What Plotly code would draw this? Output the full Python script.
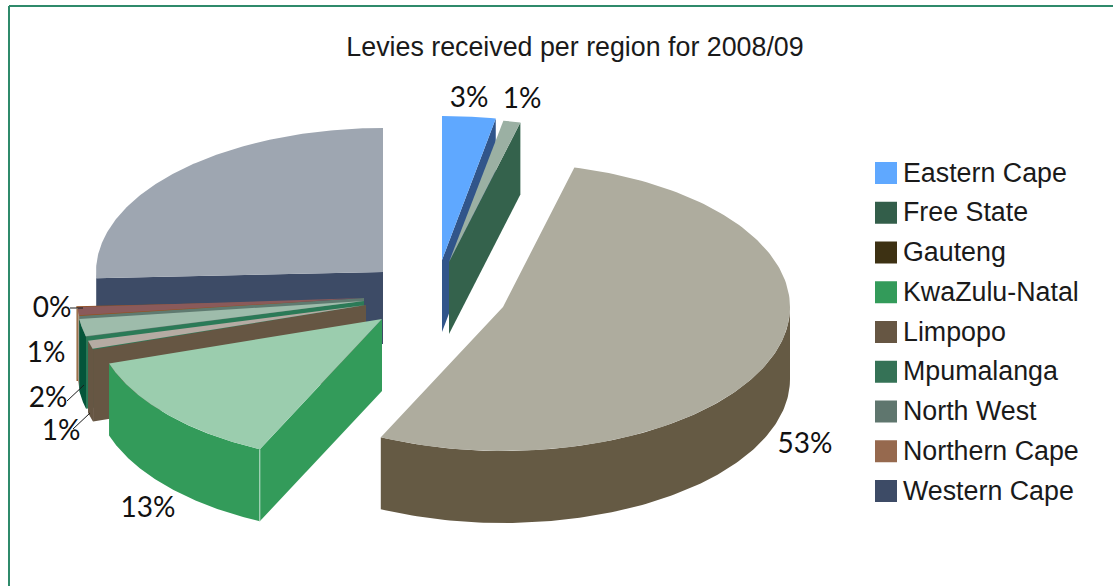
import numpy as np
import plotly.graph_objects as go

regions = ["Eastern Cape", "Free State", "Gauteng", "KwaZulu-Natal", "Limpopo",
           "Mpumalanga", "North West", "Northern Cape", "Western Cape"]
shares = [3.0, 1.0, 53.0, 13.0, 1.0, 2.0, 1.0, 0.3, 25.7]
pct_labels = ["3%", "1%", "53%", "13%", "1%", "2%", "1%", "0%"]

# styling and layout, one entry per region
legend_colors = ["#5fa8ff", "#335e4a", "#3d3113", "#339b5a", "#665643",
                 "#357256", "#5f766e", "#96694e", "#3d4b66"]
top_colors = ["#5fa8ff", "#9bb0a3", "#aeac9e", "#9bcdae", "#b5aba3",
              "#9ebcab", "#8a5a5a", "#96521f", "#9ea6b1"]
wall_colors = ["#31558a", "#34624c", "#655a44", "#339b5a", "#665643",
               "#2b7a57", "#5f7a70", "#96521f", "#3d4b66"]
rim_colors = ["#31558a", "#34624c", "#655a44", "#339b5a", "#665643",
              "#04553a", "#a89a88", "#a89a88", "#3d4b66"]
# where each exploded slice has its point, in pixels
cx = [442, 449, 503, 382, 366, 364, 364, 363, 383]
cy = [260, 262, 307, 319, 305, 301, 298, 300, 272]
label_x = [469, 522, 805, 148, 61, 48, 46, 52]
label_y = [100, 101, 446, 510, 433, 400, 355, 310]

RX, RY, DEPTH = 287, 144, 72
# painter's order, back to front
draw_order = [8, 7, 6, 5, 4, 3, 0, 1, 2]

fig = go.Figure()


def poly(xs, ys, color):
    fig.add_trace(go.Scatter(x=xs, y=ys, mode="lines", fill="toself", fillcolor=color,
                             line=dict(width=0), hoverinfo="skip", showlegend=False))


def edge(i, ang):
    rad = np.radians(ang)
    return cx[i] + RX * np.sin(rad), cy[i] - RY * np.cos(rad)


def radial_wall(i, ang):
    ex, ey = edge(i, ang)
    poly([cx[i], ex, ex, cx[i], cx[i]],
         [cy[i], ey, ey + DEPTH, cy[i] + DEPTH, cy[i]], wall_colors[i])


ends = np.cumsum(shares) * 3.6
starts = ends - np.array(shares) * 3.6

for i in draw_order:
    a0, a1 = starts[i], ends[i]
    # cut faces that look towards the viewer
    if 180 < a0 < 360:
        radial_wall(i, a0)
    if 0 < a1 < 180:
        radial_wall(i, a1)
    # outer rim, only the front half shows
    r0, r1 = max(a0, 90), min(a1, 270)
    if r1 > r0:
        ang = np.linspace(r0, r1, 120)
        ex, ey = edge(i, ang)
        poly(np.r_[ex, ex[::-1]], np.r_[ey, ey[::-1] + DEPTH], rim_colors[i])
    # top face
    ang = np.linspace(a0, a1, 160)
    ex, ey = edge(i, ang)
    poly(np.r_[cx[i], ex, cx[i]], np.r_[cy[i], ey, cy[i]], top_colors[i])

# pale seam on the corner of the KwaZulu-Natal slice
sx, sy = edge(3, starts[3])
fig.add_trace(go.Scatter(x=[sx, sx], y=[sy, sy + DEPTH], mode="lines", hoverinfo="skip",
                         line=dict(color="#bfe0cc", width=1), showlegend=False))

# leader lines of the small labels
for lx, ly in [([70, 83], [308, 308]), ([67, 84], [401, 385]), ([73, 90], [429, 413])]:
    fig.add_trace(go.Scatter(x=lx, y=ly, mode="lines", hoverinfo="skip",
                             line=dict(color="#1a1a1a", width=1), showlegend=False))

fig.add_trace(go.Scatter(x=label_x, y=label_y, mode="text", text=pct_labels, hoverinfo="skip",
                         textposition="middle center", showlegend=False,
                         textfont=dict(family="Lato", size=28, color="#111111")))

# legend, the built in one can't draw swatches this big
legend_y = [173 + 39.75 * n for n in range(len(regions))]
fig.add_trace(go.Scatter(x=[886] * len(regions), y=legend_y, mode="markers", hoverinfo="skip",
                         marker=dict(symbol="square", size=22, color=legend_colors, line=dict(width=0)),
                         showlegend=False))
fig.add_trace(go.Scatter(x=[903] * len(regions), y=[v + 2 for v in legend_y], mode="text", text=regions,
                         hoverinfo="skip", textposition="middle right", showlegend=False,
                         textfont=dict(family="Liberation Sans", size=26.8, color="#1a1a1a")))

frame = dict(type="line", xref="x", yref="y", line=dict(color="#2f8a6b", width=2))
fig.add_shape(x0=9, y0=6, x1=1113, y1=6, **frame)
fig.add_shape(x0=9, y0=6, x1=9, y1=586, **frame)

fig.update_layout(
    width=1113, height=586,
    margin=dict(l=0, r=0, t=0, b=0),
    paper_bgcolor="white", plot_bgcolor="white",
    title=dict(text="Levies received per region for 2008/09", x=575 / 1113, xanchor="center",
               y=1 - 47 / 586, yanchor="middle",
               font=dict(family="Liberation Sans", size=26.8, color="#1a1a1a")),
    xaxis=dict(range=[0, 1113], visible=False, fixedrange=True),
    yaxis=dict(range=[586, 0], visible=False, fixedrange=True),
)

fig.write_html("out.html", config=dict(displayModeBar=False),
               post_script="document.body.style.margin='0';")
